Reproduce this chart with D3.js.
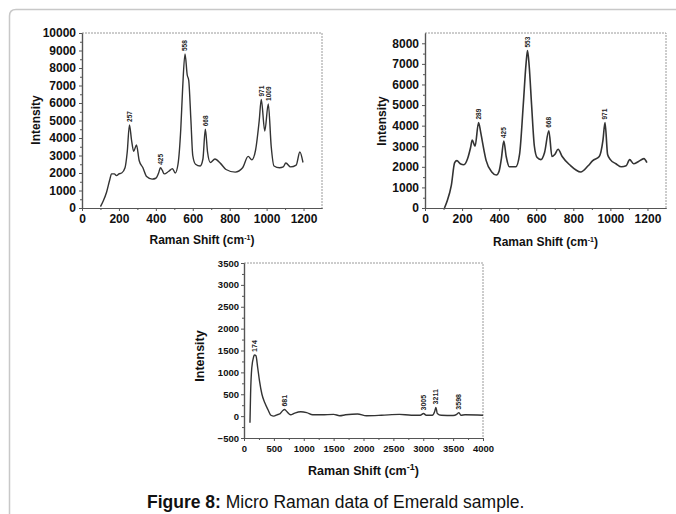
<!DOCTYPE html>
<html>
<head>
<meta charset="utf-8">
<script src="https://cdn.jsdelivr.net/npm/d3@7"></script>
<style>
  body { margin: 0; background: #fff; }
  svg text { font-family: "Liberation Sans", Arial, sans-serif; }
</style>
</head>
<body>
<div id="main"></div>
<script>
// sample 1 (top left)
var shiftA = [100,115,133,150,160,175,187,200,215,233,245,257,268,280,295,310,330,350,380,400,415,425,435,445,470,490,505,520,535,545,558,570,578,590,600,615,640,655,668,680,695,720,750,780,830,870,900,920,940,960,971,990,1009,1025,1040,1070,1090,1104,1130,1160,1180,1197];
var intensityA = [80,400,900,1600,1950,1950,1850,1950,2000,2300,3200,4750,3900,3240,3600,2700,2300,1800,1650,1700,2000,2300,2150,1950,2100,2250,2000,2500,4500,6800,8800,7600,7300,5000,3000,2500,2400,2800,4500,3200,2600,2800,2550,2200,2050,2300,2950,2750,3300,5000,6200,4400,5950,3500,2400,2300,2350,2570,2350,2450,3200,2600];
var peaksA = [257, 425, 558, 668, 971, 1009];

// sample 2 (top right)
var shiftB = [105,120,142,160,172,190,210,230,245,255,270,289,300,310,330,360,385,400,412,425,438,455,490,510,530,545,553,562,575,590,605,625,645,668,685,700,718,740,780,840,880,905,940,960,971,985,1000,1030,1060,1085,1104,1125,1150,1181,1197];
var intensityB = [0,350,1100,2200,2300,2150,2100,2400,2900,3300,3000,4150,3700,3200,2300,1750,1600,1800,2400,3250,2500,2000,2000,2600,5000,7000,7650,6900,5000,3000,2450,2350,2700,3750,2500,2600,2850,2500,2100,1750,2050,2300,2500,3300,4150,2600,2350,2150,2000,2050,2350,2150,2250,2400,2200];
var peaksB = [289, 425, 553, 668, 971];

// sample 3 (bottom, wide range)
var shiftC = [100,110,130,160,174,200,230,260,300,350,400,450,500,550,600,650,681,720,780,850,950,1050,1150,1300,1500,1600,1700,1900,2050,2300,2600,2800,2950,3005,3050,3150,3190,3211,3235,3300,3500,3560,3598,3630,3700,4000];
var intensityC = [-150,500,1100,1350,1400,1380,1100,800,500,300,150,20,0,30,50,130,150,100,30,70,100,80,30,30,40,10,30,50,10,20,40,20,20,60,20,20,100,200,60,20,15,40,80,20,30,20];
var peaksC = [174, 681, 3005, 3211, 3598];

var svg = d3.select('#main').append('svg').attr('width', 676).attr('height', 514);

// page frame with rounded corner
svg.append('path')
    .attr('d', 'M9.5,514 L9.5,16 Q9.5,9.5 16,9.5 L676,9.5')
    .attr('fill', 'none').attr('stroke', '#c8c8c8').attr('stroke-width', 1.5);

function drawPanel(p) {
    var x = d3.scaleLinear().domain(p.xDomain).range([p.left, p.right]);
    var y = d3.scaleLinear().domain(p.yDomain).range([p.bottom, p.top]);
    var g = svg.append('g');
    var fmt = d3.format('d');

    // top / right frame
    g.append('path')
        .attr('d', 'M' + p.left + ',' + p.top + 'H' + p.right + 'V' + p.bottom)
        .attr('fill', 'none').attr('stroke', '#9a9a9a').attr('stroke-width', 1)
        .attr('stroke-dasharray', '2,1');

    var xTicks = d3.range(p.xDomain[0], p.xDomain[1] + 1, p.xStep).filter(function (d) { return d <= p.xLast; });
    var yTicks = d3.range(p.yDomain[0], p.yDomain[1] + 1, p.yStep).filter(function (d) { return d <= p.yLast; });
    var xMinor = d3.range(p.xDomain[0] + p.xStep / 2, p.xDomain[1], p.xStep);
    var yMinor = d3.range(p.yDomain[0] + p.yStep / 2, p.yDomain[1], p.yStep);

    g.append('g').attr('transform', 'translate(0,' + p.bottom + ')')
        .call(d3.axisBottom(x).tickValues(xTicks).tickFormat(fmt).tickSize(3).tickSizeOuter(0).tickPadding(p.xPad));
    g.append('g').attr('transform', 'translate(0,' + p.bottom + ')')
        .call(d3.axisBottom(x).tickValues(xMinor).tickSize(2).tickSizeOuter(0).tickFormat(''));
    g.append('g').attr('transform', 'translate(' + p.left + ',0)')
        .call(d3.axisLeft(y).tickValues(yTicks).tickFormat(fmt).tickSize(3).tickSizeOuter(0).tickPadding(p.yPad));
    g.append('g').attr('transform', 'translate(' + p.left + ',0)')
        .call(d3.axisLeft(y).tickValues(yMinor).tickSize(2).tickSizeOuter(0).tickFormat(''));

    g.selectAll('.domain').attr('stroke', '#555').attr('stroke-width', 1.2);
    g.selectAll('.tick line').attr('stroke', '#555');
    g.selectAll('.tick text')
        .attr('fill', '#111').style('font-size', p.tickFont + 'px').style('font-weight', 'bold')
        .style('font-family', '"Liberation Sans", Arial, sans-serif');

    // spectrum
    var pts = p.xs.map(function (d, i) { return [d, p.ys[i]]; });
    g.append('path').datum(pts)
        .attr('fill', 'none').attr('stroke', '#333').attr('stroke-width', p.lineW)
        .attr('stroke-linejoin', 'round')
        .attr('d', d3.line().x(function (d) { return x(d[0]); }).y(function (d) { return y(d[1]); })
            .curve(d3.curveMonotoneX));

    // peak labels
    p.peaks.forEach(function (pk) {
        var v = p.ys[p.xs.indexOf(pk)];
        g.append('text')
            .attr('transform', 'translate(' + (x(pk) + p.peakFont * 0.35) + ',' + (y(v) - 3) + ') rotate(-90)')
            .attr('text-anchor', 'start')
            .style('font-size', p.peakFont + 'px').style('font-weight', 'bold').attr('fill', '#222')
            .text(pk);
    });

    // axis titles
    g.append('text')
        .attr('transform', 'translate(' + p.yTitleX + ',' + p.yTitleY + ') rotate(-90)')
        .attr('text-anchor', 'middle')
        .style('font-size', p.titleFont + 'px').style('font-weight', 'bold').attr('fill', '#111')
        .text('Intensity');

    var t = g.append('text')
        .attr('x', (p.left + p.right) / 2).attr('y', p.xTitleY)
        .attr('text-anchor', 'middle')
        .style('font-size', p.titleFont + 'px').style('font-weight', 'bold').attr('fill', '#111');
    t.append('tspan').text('Raman Shift (cm');
    t.append('tspan').attr('dy', -p.supFont * 0.55).style('font-size', p.supFont + 'px').text('-1');
    t.append('tspan').attr('dy', p.supFont * 0.55).text(')');
}

drawPanel({
    xs: shiftA, ys: intensityA, peaks: peaksA,
    xDomain: [0, 1300], yDomain: [0, 10000], xStep: 200, yStep: 1000, xLast: 1200, yLast: 10000,
    left: 82, right: 322, top: 33, bottom: 208,
    tickFont: 12, xPad: 3, yPad: 3, peakFont: 6.5, lineW: 1.4,
    titleFont: 12, supFont: 7, yTitleX: 40, yTitleY: 120, xTitleY: 244
});

drawPanel({
    xs: shiftB, ys: intensityB, peaks: peaksB,
    xDomain: [0, 1300], yDomain: [0, 8500], xStep: 200, yStep: 1000, xLast: 1200, yLast: 8000,
    left: 425, right: 666, top: 33, bottom: 208,
    tickFont: 12, xPad: 3, yPad: 3, peakFont: 6.5, lineW: 1.6,
    titleFont: 12, supFont: 7, yTitleX: 386, yTitleY: 121, xTitleY: 246
});

drawPanel({
    xs: shiftC, ys: intensityC, peaks: peaksC,
    xDomain: [0, 4000], yDomain: [-500, 3500], xStep: 500, yStep: 500, xLast: 4000, yLast: 3500,
    left: 244, right: 483, top: 263, bottom: 438,
    tickFont: 9.5, xPad: 4, yPad: 2, peakFont: 7, lineW: 1.4,
    titleFont: 12.5, supFont: 9, yTitleX: 204, yTitleY: 356, xTitleY: 475
});

// caption
var cap = svg.append('text').attr('x', 147).attr('y', 508)
    .style('font-size', '17.5px').attr('fill', '#111');
cap.append('tspan').style('font-weight', 'bold').text('Figure 8:');
cap.append('tspan').text(' Micro Raman data of Emerald sample.');
</script>
</body>
</html>
